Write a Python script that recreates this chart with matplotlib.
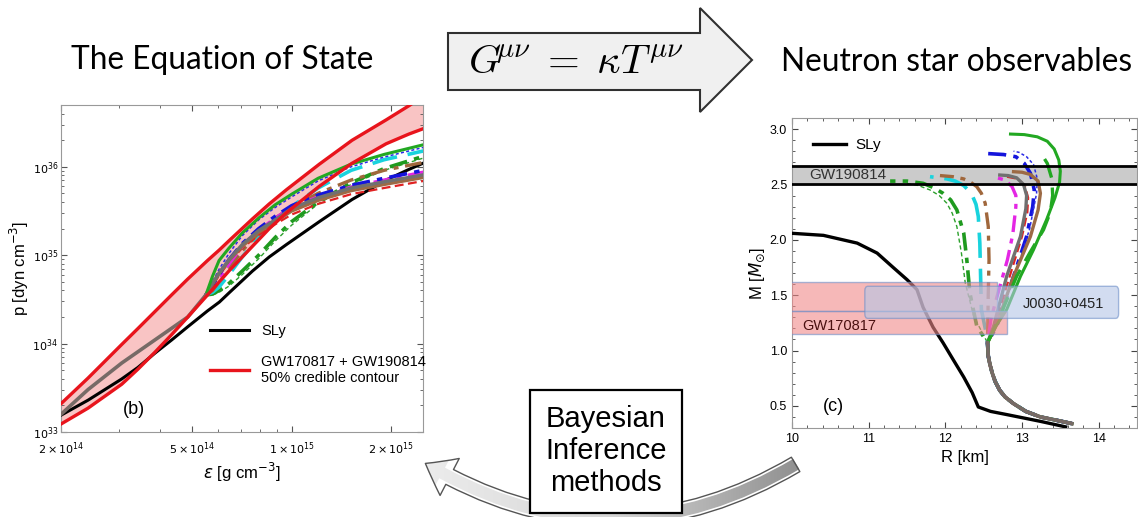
import numpy as np
import matplotlib
matplotlib.use("Agg")
import matplotlib.pyplot as plt
from matplotlib.patches import Polygon, Rectangle, FancyBboxPatch, FancyArrowPatch
from matplotlib.colors import LinearSegmentedColormap
from matplotlib.ticker import FixedLocator, NullFormatter, MultipleLocator, FormatStrFormatter, LogLocator

plt.rcParams['font.family'] = ['Liberation Sans', 'DejaVu Sans']
plt.rcParams['mathtext.fontset'] = 'dejavusans'

# ---- panel (b): equation of state, log10 eps [g cm^-3] vs log10 p [dyn cm^-3] ----
band_logeps = [14.301, 14.383, 14.485, 14.534, 14.585, 14.636, 14.685, 14.745, 14.781,
               14.812, 14.881, 14.932, 14.984, 15.084, 15.183, 15.286, 15.355, 15.398]
sly_logp = [33.19, 33.36, 33.6, 33.73, 33.89, 34.04, 34.19, 34.37, 34.47,
            34.58, 34.82, 34.98, 35.12, 35.38, 35.63, 35.85, 35.97, 36.04]
band_hi_logp = [33.32, 33.61, 33.99, 34.17, 34.36, 34.55, 34.73, 34.94, 35.06,
                35.17, 35.41, 35.58, 35.74, 36.03, 36.3, 36.53, 36.69, 36.8]
band_lo_logp = [33.09, 33.27, 33.54, 33.71, 33.9, 34.1, 34.3, 34.55, 34.7,
                34.83, 35.1, 35.3, 35.48, 35.78, 36.04, 36.26, 36.37, 36.43]

base_logeps = [14.301, 14.383, 14.485, 14.585, 14.685, 14.74]
base_logp = [33.2, 33.48, 33.78, 34.04, 34.3, 34.55]

eos_logeps = [14.74, 14.76, 14.78, 14.81, 14.85, 14.9, 14.95, 15.0, 15.08, 15.18, 15.28, 15.4]
eos_logp = {
    'green_dd':  [34.55, 34.55, 34.58, 34.65, 34.78, 34.96, 35.16, 35.34, 35.58, 35.8, 35.96, 36.1],
    'green_dda': [34.55, 34.56, 34.6, 34.68, 34.82, 35.0, 35.2, 35.38, 35.6, 35.82, 35.98, 36.12],
    'cyan':      [34.55, 34.58, 34.64, 34.78, 34.98, 35.2, 35.4, 35.55, 35.76, 35.96, 36.08, 36.18],
    'brown_da':  [34.55, 34.6, 34.7, 34.85, 35.05, 35.25, 35.42, 35.54, 35.7, 35.85, 35.96, 36.05],
    'red_d':     [34.55, 34.66, 34.77, 34.92, 35.08, 35.23, 35.35, 35.46, 35.58, 35.69, 35.76, 35.84],
    'magenta':   [34.55, 34.62, 34.72, 34.9, 35.1, 35.28, 35.42, 35.54, 35.66, 35.77, 35.85, 35.94],
    'blue_da':   [34.55, 34.66, 34.78, 34.95, 35.13, 35.3, 35.44, 35.56, 35.68, 35.79, 35.87, 35.96],
    'blue_dot':  [34.55, 34.7, 34.84, 35.02, 35.22, 35.4, 35.54, 35.66, 35.84, 36.0, 36.11, 36.22],
    'brown':     [34.55, 34.67, 34.79, 34.94, 35.1, 35.26, 35.38, 35.5, 35.62, 35.73, 35.8, 35.88],
    'gray':      [34.55, 34.68, 34.8, 34.95, 35.12, 35.28, 35.4, 35.53, 35.65, 35.76, 35.83, 35.91],
    'green':     [34.55, 34.76, 34.94, 35.08, 35.25, 35.42, 35.57, 35.69, 35.87, 36.03, 36.14, 36.25],
}

# ---- panel (c): mass [M_sun] vs radius [km] ----
sly_R = [9.97, 10.41, 10.85, 11.11, 11.32, 11.5, 11.63, 11.71, 11.84, 11.97, 12.1, 12.24,
         12.35, 12.43, 12.59, 12.81, 13.24, 13.57]
sly_M = [2.06, 2.04, 1.97, 1.88, 1.75, 1.64, 1.55, 1.39, 1.21, 1.07, 0.92, 0.76,
         0.62, 0.49, 0.45, 0.42, 0.36, 0.31]

mr_base_R = [13.65, 13.45, 13.24, 13.05, 12.89, 12.78, 12.71, 12.65, 12.61, 12.58, 12.56, 12.55]
mr_base_M = [0.34, 0.37, 0.40, 0.45, 0.52, 0.58, 0.64, 0.72, 0.80, 0.88, 0.95, 1.07]

mr_R = {
    'green_dd':  [12.55, 12.37, 12.26, 12.21, 12.15, 12.09, 12.02, 11.92, 11.8, 11.65, 11.49],
    'green_dda': [12.55, 12.41, 12.32, 12.28, 12.24, 12.15, 12.07, 11.97, 11.85, 11.71, 11.5, 11.28],
    'cyan':      [12.55, 12.52, 12.47, 12.46, 12.45, 12.43, 12.4, 12.34, 12.24, 12.13, 12.02, 11.8],
    'brown_da':  [12.55, 12.56, 12.57, 12.56, 12.52, 12.47, 12.41, 12.33, 12.24, 12.1, 11.93],
    'red_d':     [12.55, 12.64, 12.84, 13.0, 13.07, 13.08, 13.04, 12.95, 12.8],
    'magenta':   [12.55, 12.6, 12.7, 12.81, 12.88, 12.92, 12.92, 12.87, 12.78, 12.62],
    'blue_da':   [12.55, 12.67, 12.89, 13.06, 13.14, 13.16, 13.11, 13.03, 12.92, 12.76, 12.52],
    'blue_dot':  [12.55, 12.7, 12.92, 13.1, 13.19, 13.2, 13.15, 13.06, 12.96, 12.89],
    'brown':     [12.55, 12.66, 12.89, 13.11, 13.21, 13.24, 13.21, 13.11, 13.0, 12.89],
    'gray':      [12.55, 12.63, 12.8, 12.98, 13.05, 13.06, 13.02, 12.93, 12.82, 12.71],
    'green':     [12.55, 12.66, 12.8, 12.98, 13.15, 13.32, 13.43, 13.49, 13.5, 13.48, 13.42,
                  13.33, 13.2, 13.03, 12.85],
}
mr_M = {
    'green_dd':  [1.07, 1.31, 1.61, 1.88, 2.12, 2.24, 2.33, 2.4, 2.45, 2.49, 2.51],
    'green_dda': [1.07, 1.22, 1.52, 1.82, 2.06, 2.27, 2.36, 2.42, 2.47, 2.51, 2.53, 2.53],
    'cyan':      [1.07, 1.2, 1.37, 1.67, 1.97, 2.21, 2.32, 2.42, 2.49, 2.53, 2.55, 2.57],
    'brown_da':  [1.07, 1.52, 1.82, 2.12, 2.33, 2.42, 2.48, 2.52, 2.55, 2.57, 2.58],
    'red_d':     [1.07, 1.22, 1.67, 2.03, 2.25, 2.38, 2.48, 2.55, 2.57],
    'magenta':   [1.07, 1.3, 1.55, 1.82, 2.05, 2.3, 2.4, 2.48, 2.54, 2.57],
    'blue_da':   [1.07, 1.22, 1.67, 2.03, 2.3, 2.45, 2.6, 2.69, 2.75, 2.77, 2.78],
    'blue_dot':  [1.07, 1.3, 1.7, 2.1, 2.42, 2.55, 2.68, 2.75, 2.79, 2.8],
    'brown':     [1.07, 1.22, 1.67, 2.03, 2.27, 2.42, 2.53, 2.59, 2.61, 2.615],
    'gray':      [1.07, 1.22, 1.67, 2.03, 2.28, 2.4, 2.5, 2.56, 2.58, 2.585],
    'green':     [1.07, 1.22, 1.37, 1.67, 1.91, 2.18, 2.38, 2.52, 2.62, 2.72, 2.82,
                  2.89, 2.93, 2.95, 2.955],
}
green_dash_R = [12.55, 12.75, 12.93, 13.1, 13.28, 13.37, 13.4, 13.39, 13.33, 13.24]
green_dash_M = [1.07, 1.37, 1.67, 1.88, 2.09, 2.25, 2.4, 2.55, 2.69, 2.79]

gw190814_M = (2.50, 2.67)
gw170817_boxes = [(10.0, 12.68, 1.36, 1.62), (10.0, 12.81, 1.15, 1.36)]
j0030_box = (10.95, 14.26, 1.29, 1.58)

styles = {
    'green_dd':  dict(color='#2ca02c', ls=(0, (3, 2)), lw=1.0),
    'green_dda': dict(color='#1f9a1f', ls=(0, (5, 2, 1.5, 2)), lw=2.6),
    'cyan':      dict(color='#19d3dd', ls=(0, (7, 3)), lw=2.6),
    'brown_da':  dict(color='#a0673c', ls=(0, (5, 2, 1.5, 2)), lw=2.4),
    'red_d':     dict(color='#e02222', ls=(0, (4, 2)), lw=1.6),
    'magenta':   dict(color='#e426e4', ls=(0, (5, 2, 1.5, 2)), lw=2.4),
    'blue_da':   dict(color='#1414dc', ls=(0, (5, 2, 1.5, 2)), lw=2.6),
    'blue_dot':  dict(color='#2a2ae6', ls=(0, (2, 1.5)), lw=1.1),
    'brown':     dict(color='#9c6a45', ls='-', lw=2.4),
    'gray':      dict(color='#707070', ls='-', lw=2.4),
    'green':     dict(color='#22a822', ls='-', lw=2.2),
}

W, H = 1138, 517
fig = plt.figure(figsize=(W / 100, H / 100), dpi=100)


def fx(px):
    return px / W


def fy(py):
    return 1 - py / H


# overlay in pixel coordinates for the diagram arrows and boxes
ov = fig.add_axes([0, 0, 1, 1])
ov.set_xlim(0, W)
ov.set_ylim(H, 0)
ov.axis('off')

# ---------------- left panel ----------------
axb = fig.add_axes([fx(61), fy(432), fx(423) - fx(61), fy(105) - fy(432)])
axb.set_xscale('log')
axb.set_yscale('log')
e = lambda le: 10.0 ** np.asarray(le)
band_eps = e(band_logeps)
axb.fill_between(band_eps, e(band_lo_logp), e(band_hi_logp), color='#f9c4c4', lw=0, zorder=1)
axb.plot(band_eps, e(sly_logp), color='black', lw=2.2, zorder=3, label='SLy')
for key, lp in eos_logp.items():
    axb.plot(e(eos_logeps), e(lp), zorder=4, **styles[key])
axb.plot(e(base_logeps), e(base_logp), color='#776a66', lw=2.6, zorder=4)
axb.plot(band_eps, e(band_hi_logp), color='#e8141c', lw=2.4, zorder=5,
         label='GW170817 + GW190814\n50% credible contour')
axb.plot(band_eps, e(band_lo_logp), color='#e8141c', lw=2.4, zorder=5)

axb.set_xlim(2e14, 2.5e15)
axb.set_ylim(1e33, 5e36)
axb.xaxis.set_major_locator(FixedLocator([2e14, 5e14, 1e15, 2e15]))
axb.set_xticklabels([r'$2\times10^{14}$', r'$5\times10^{14}$', r'$1\times10^{15}$', r'$2\times10^{15}$'])
axb.xaxis.set_minor_locator(FixedLocator([3e14, 4e14, 6e14, 7e14, 8e14, 9e14]))
axb.xaxis.set_minor_formatter(NullFormatter())
axb.yaxis.set_major_locator(FixedLocator([1e33, 1e34, 1e35, 1e36]))
axb.set_yticklabels([r'$10^{33}$', r'$10^{34}$', r'$10^{35}$', r'$10^{36}$'])
axb.yaxis.set_minor_locator(LogLocator(base=10, subs=np.arange(2, 10)))
axb.yaxis.set_minor_formatter(NullFormatter())
axb.tick_params(which='both', direction='in', top=True, right=True, labelsize=8, color='#555555')
axb.tick_params(axis='x', pad=6)
axb.tick_params(axis='y', pad=2)
axb.tick_params(which='major', length=4)
axb.tick_params(which='minor', length=2)
for s in axb.spines.values():
    s.set_color('#999999')
axb.set_xlabel(r'$\varepsilon$ [g cm$^{-3}$]', fontsize=12, labelpad=3)
axb.set_ylabel(r'p [dyn cm$^{-3}$]', fontsize=12, labelpad=1)
axb.text(0.17, 0.055, '(b)', transform=axb.transAxes, fontsize=13)
axb.legend(loc='upper left', bbox_to_anchor=(0.375, 0.37), frameon=False, fontsize=10.5,
           handlelength=2.7, labelspacing=1.15, handletextpad=0.8)

# ---------------- right panel ----------------
axc = fig.add_axes([fx(792), fy(428), fx(1137) - fx(792), fy(118) - fy(428)])
axc.plot(sly_R, sly_M, color='black', lw=2.4, zorder=3, label='SLy')
for key in mr_R:
    axc.plot(mr_base_R + mr_R[key], mr_base_M + mr_M[key], zorder=4, **styles[key])
axc.plot(green_dash_R, green_dash_M, color='#22a822', ls=(0, (6, 3)), lw=2.4, zorder=4)
axc.plot(mr_base_R, mr_base_M, color='#776a66', lw=2.6, zorder=4)

axc.axhspan(gw190814_M[0], gw190814_M[1], color='#cbcbcb', zorder=2)
axc.axhline(gw190814_M[0], color='black', lw=2, zorder=6)
axc.axhline(gw190814_M[1], color='black', lw=2, zorder=6)
axc.text(10.23, 2.585, 'GW190814', fontsize=11, va='center', color='#333333', zorder=7)

for r0, r1, m0, m1 in gw170817_boxes:
    axc.add_patch(Rectangle((r0 - 0.2, m0), r1 - r0 + 0.2, m1 - m0, facecolor='#f08a8a', alpha=0.6,
                            edgecolor='#6f8fc8', lw=1.0, zorder=5))
r0, r1, m0, m1 = j0030_box
axc.add_patch(FancyBboxPatch((r0, m0), r1 - r0, m1 - m0, boxstyle='round,pad=0,rounding_size=0.04',
                             facecolor='#b4c6e6', alpha=0.6, edgecolor='#6f8fc8', lw=1.0, zorder=5))
axc.text(10.13, 1.22, 'GW170817', fontsize=10.5, va='center', color='#4a1010', zorder=7)
axc.text(13.54, 1.42, 'J0030+0451', fontsize=10.5, va='center', ha='center', color='#222222', zorder=7)

axc.set_xlim(10, 14.5)
axc.set_ylim(0.3, 3.1)
axc.xaxis.set_major_locator(MultipleLocator(1))
axc.xaxis.set_minor_locator(MultipleLocator(0.2))
axc.yaxis.set_major_locator(MultipleLocator(0.5))
axc.yaxis.set_minor_locator(MultipleLocator(0.1))
axc.yaxis.set_major_formatter(FormatStrFormatter('%.1f'))
axc.tick_params(which='both', direction='in', top=True, right=True, labelsize=9, color='#444444')
axc.tick_params(which='major', length=4)
axc.tick_params(which='minor', length=2)
for s in axc.spines.values():
    s.set_color('#999999')
axc.set_xlabel('R [km]', fontsize=12, labelpad=4)
axc.set_ylabel(r'M [$M_{\odot}$]', fontsize=12, labelpad=2)
axc.text(0.09, 0.055, '(c)', transform=axc.transAxes, fontsize=13)
axc.legend(loc='upper left', bbox_to_anchor=(0.02, 0.98), frameon=False, fontsize=11,
           handlelength=2.2, handletextpad=0.6)

# ---------------- diagram decorations ----------------
fig.text(fx(222), fy(60), 'The Equation of State', fontsize=22.8, family='Lato', ha='center', va='center')
fig.text(fx(957), fy(62), 'Neutron star observables', fontsize=22.8, family='Lato', ha='center', va='center')

arrow_px = [(448, 33), (700, 33), (700, 8), (752, 60), (700, 112), (700, 90), (448, 90)]
ov.add_patch(Polygon(arrow_px, closed=True, facecolor='#f0f0f0', edgecolor='#303030', lw=1.5))
ov.text(576, 62, r'$G^{\!\!\mu\nu}\;=\;\kappa T^{\mu\nu}$', fontsize=29.5, math_fontfamily='cm',
        ha='center', va='center')

loop = FancyArrowPatch((798, 463), (423, 462), connectionstyle='arc3,rad=-0.30',
                       arrowstyle='simple,head_length=20,head_width=30,tail_width=12',
                       facecolor='none', edgecolor='#555555', lw=1.0, zorder=3)
ov.add_patch(loop)
shade = LinearSegmentedColormap.from_list('shade', ['#eeeeee', '#d6d6d6', '#8e8e8e'])
grad = ov.imshow(np.linspace(0, 1, 256)[None, :], cmap=shade, extent=(410, 805, 530, 440),
                 aspect='auto', zorder=2)
grad.set_clip_path(loop)
ov.set_xlim(0, W)
ov.set_ylim(H, 0)

ov.add_patch(Rectangle((530, 390), 152, 123, facecolor='white', edgecolor='black', lw=1.6, zorder=4))
ov.text(606, 451, 'Bayesian\nInference\nmethods', fontsize=21, ha='center', va='center',
        linespacing=1.2, zorder=5)

fig.savefig('out.png', dpi=100)
